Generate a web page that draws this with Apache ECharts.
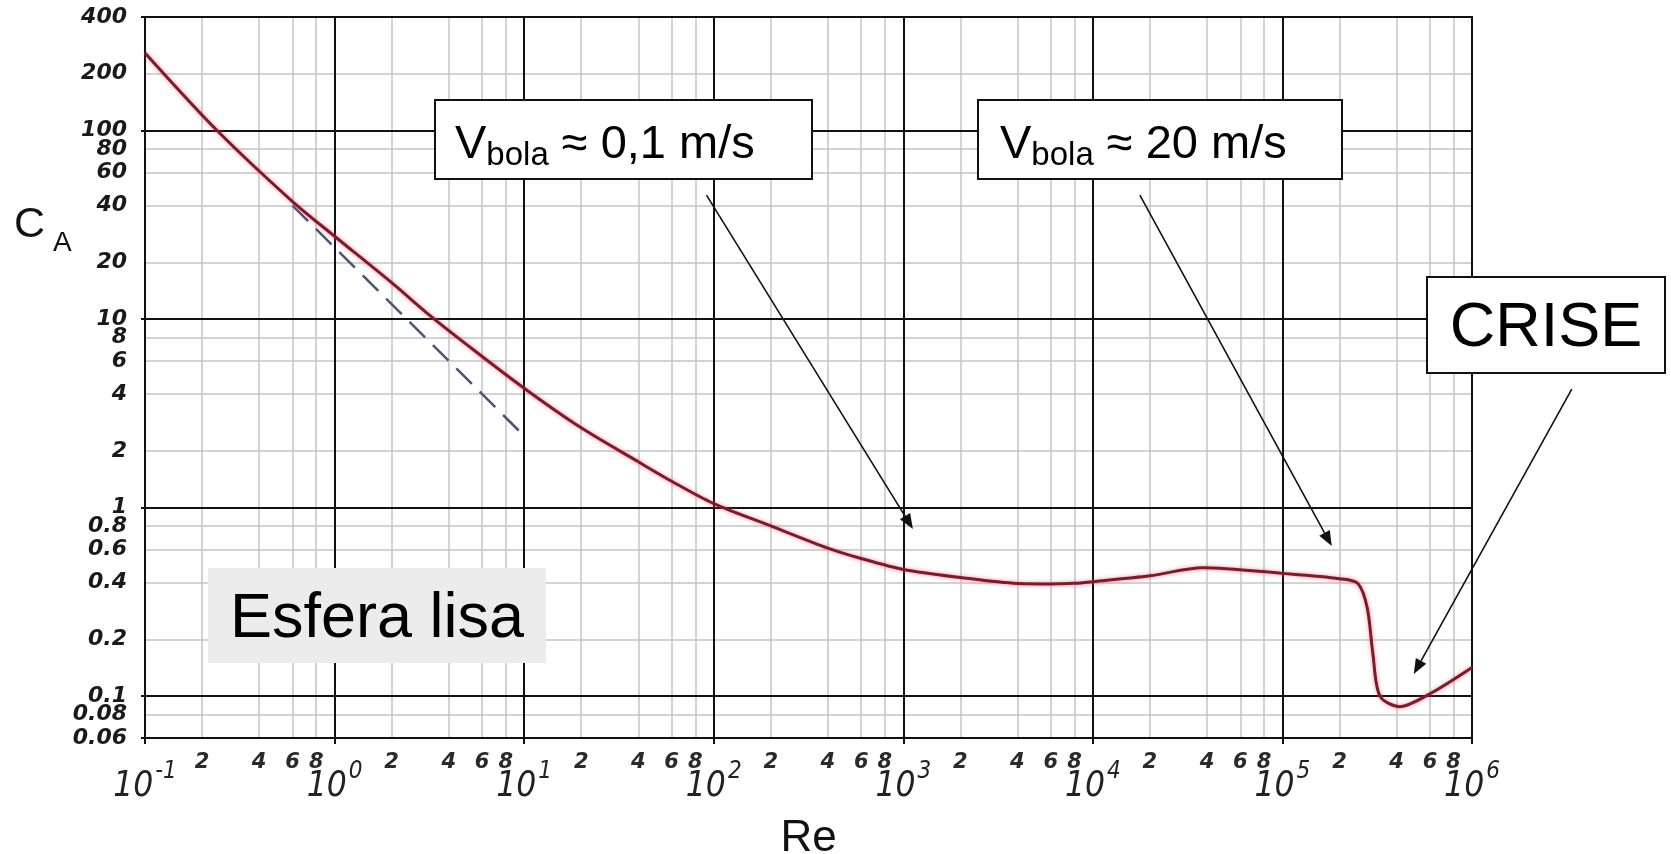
<!DOCTYPE html>
<html>
<head>
<meta charset="utf-8">
<title>C_A x Re - esfera lisa</title>
<script src="https://cdn.jsdelivr.net/npm/echarts@6/dist/echarts.min.js"></script>
<style>
  html, body { margin: 0; padding: 0; background: #fff; }
  #chart { width: 1671px; height: 854px; }
</style>
</head>
<body>
<div id="chart"></div>
<script>
// curve: Re -> C_A
const reValues = [0.1, 0.24, 0.6, 1, 2, 3.2, 5, 10, 20, 40, 60, 100, 200, 400, 600, 1000, 2000, 4000, 6000, 8000, 10000, 20000, 38000, 100000, 200000, 250000, 280000, 300000, 327000, 416000, 600000, 1000000];
const caValues = [258, 100, 42, 27.5, 15.6, 10.4, 7.3, 4.3, 2.65, 1.75, 1.38, 1.05, 0.8, 0.61, 0.537, 0.47, 0.426, 0.396, 0.394, 0.397, 0.405, 0.435, 0.48, 0.448, 0.42, 0.396, 0.295, 0.168, 0.10, 0.088, 0.103, 0.142];

// dashed straight line (Stokes)
const stokesRe = [0.6, 10];
const stokesCa = [40, 2.4];

// axis ticks
const xMajor = [0.1, 1, 10, 100, 1000, 10000, 100000, 1000000];
const xMajorExp = ['-1', '0', '1', '2', '3', '4', '5', '6'];
const xMinorDigits = [2, 4, 6, 8];

const yMajor = [0.06, 0.1, 1, 10, 100, 400];
const yMajorLabels = ['0.06', '0.1', '1', '10', '100', '400'];
const yMinor = [0.08, 0.2, 0.4, 0.6, 0.8, 2, 4, 6, 8, 20, 40, 60, 80, 200];
const yMinorLabels = ['0.08', '0.2', '0.4', '0.6', '0.8', '2', '4', '6', '8', '20', '40', '60', '80', '200'];

// annotation arrows, in data coordinates (Re, C_A)
const arrowFrom = [[91.6, 45.4], [17700, 45.4], [3.36e6, 4.25]];
const arrowTo = [[1124, 0.771], [182000, 0.625], [493000, 0.131]];

const chart = echarts.init(document.getElementById('chart'));

const majorLine = { color: '#111', width: 2, type: 'solid' };
const minorLine = { color: '#c4c4c4', width: 1.5, type: 'solid' };
const decFont = '"Liberation Sans Narrow", "DejaVu Sans Condensed", "DejaVu Sans", sans-serif';

const yLabel = {
    show: true, position: 'start', distance: 18,
    color: '#1a1a1a', fontFamily: 'DejaVu Sans', fontStyle: 'italic', fontWeight: 'bold', fontSize: 22
};

let minorItems = [];
let majorItems = [];

yMinor.forEach((v, i) => {
    minorItems.push({ yAxis: v, lineStyle: minorLine, label: Object.assign({ formatter: yMinorLabels[i] }, yLabel) });
});
yMajor.forEach((v, i) => {
    majorItems.push({ yAxis: v, lineStyle: majorLine, label: Object.assign({ formatter: yMajorLabels[i] }, yLabel) });
});

xMajor.slice(0, -1).forEach((dec) => {
    xMinorDigits.forEach((d) => {
        minorItems.push({
            xAxis: dec * d,
            lineStyle: minorLine,
            label: {
                show: true, position: 'start', distance: 14, formatter: String(d),
                color: '#2a2a2a', fontFamily: 'DejaVu Sans', fontStyle: 'italic', fontWeight: 'bold', fontSize: 21
            }
        });
    });
});

xMajor.forEach((v, i) => {
    majorItems.push({
        xAxis: v,
        lineStyle: majorLine,
        label: {
            show: true, position: 'start', distance: 22,
            formatter: '{d|10}{s|' + xMajorExp[i] + '}',
            rich: {
                d: { fontFamily: decFont, fontStyle: 'italic', fontSize: 35, lineHeight: 44, verticalAlign: 'bottom', color: '#222' },
                s: { fontFamily: decFont, fontStyle: 'italic', fontSize: 24, lineHeight: 26, verticalAlign: 'top', padding: [0, 0, 0, 2], color: '#222' }
            }
        }
    });
});

const option = {
    animation: false,
    grid: {
        left: 145, right: 199, top: 17, bottom: 116,
        outerBoundsMode: 'none',
        show: true, borderColor: '#111', borderWidth: 2
    },
    xAxis: {
        type: 'log', logBase: 10, min: 0.1, max: 1000000,
        name: 'Re', nameLocation: 'middle', nameGap: 79,
        nameTextStyle: { fontFamily: 'Liberation Sans', fontSize: 44, color: '#111' },
        axisLine: { show: false },
        axisTick: { show: true, length: 6, lineStyle: { color: '#111', width: 2 } },
        axisLabel: { show: false },
        splitLine: { show: false },
        minorTick: { show: false }
    },
    yAxis: {
        type: 'log', logBase: 10, min: 0.06, max: 400,
        axisLine: { show: false },
        axisTick: { show: true, length: 4, lineStyle: { color: '#111', width: 2 } },
        axisLabel: { show: false },
        splitLine: { show: false }
    },
    series: [
        {
            name: 'minor', type: 'line', data: [], silent: true, z: 1,
            markLine: { z: 1, silent: true, symbol: 'none', animation: false, data: minorItems }
        },
        {
            name: 'major', type: 'line', data: [], silent: true, z: 1,
            markLine: { z: 2, silent: true, symbol: 'none', animation: false, data: majorItems }
        },
        {
            name: 'Stokes', type: 'line', z: 3, silent: true, symbol: 'none',
            data: stokesRe.map((r, i) => [r, stokesCa[i]]),
            lineStyle: { color: '#4a5678', width: 2.5, type: [22, 11] }
        },
        {
            name: 'Esfera lisa', type: 'line', z: 4, silent: true, symbol: 'none', smooth: 0.3,
            data: reValues.map((r, i) => [r, caValues[i]]),
            lineStyle: { color: '#821828', width: 3, shadowColor: 'rgba(235,70,90,0.6)', shadowBlur: 4 }
        }
    ]
};

chart.setOption(option);

// annotations: boxes, texts and arrows
const boxText = {
    m: { fontFamily: 'Liberation Sans', fontSize: 47, lineHeight: 50, padding: [0, 0, 10, 0], verticalAlign: 'top', fill: '#000' },
    b: { fontFamily: 'Liberation Sans', fontSize: 33, lineHeight: 36, verticalAlign: 'bottom', fill: '#000' }
};
const plain = (size) => ({ fontFamily: 'Liberation Sans', fontSize: size, fill: '#000', align: 'center', verticalAlign: 'middle', textAlign: 'center', textVerticalAlign: 'middle' });

let elements = [
    { type: 'rect', z: 10, shape: { x: 208, y: 568, width: 338, height: 95 }, style: { fill: '#ececec' } },
    { type: 'text', z: 11, x: 377, y: 620, style: Object.assign({ text: 'Esfera lisa' }, plain(63)) },

    { type: 'rect', z: 10, shape: { x: 435, y: 100, width: 377, height: 79 }, style: { fill: '#fff', stroke: '#111', lineWidth: 2 } },
    { type: 'text', z: 11, x: 455, y: 122, style: { text: '{m|V}{b|bola}{m| ≈ 0,1 m/s}', rich: boxText, align: 'left', verticalAlign: 'top', textAlign: 'left', textVerticalAlign: 'top' } },

    { type: 'rect', z: 10, shape: { x: 978, y: 100, width: 364, height: 79 }, style: { fill: '#fff', stroke: '#111', lineWidth: 2 } },
    { type: 'text', z: 11, x: 1000, y: 122, style: { text: '{m|V}{b|bola}{m| ≈ 20 m/s}', rich: boxText, align: 'left', verticalAlign: 'top', textAlign: 'left', textVerticalAlign: 'top' } },

    { type: 'rect', z: 10, shape: { x: 1427, y: 277, width: 238, height: 96 }, style: { fill: '#fff', stroke: '#111', lineWidth: 2 } },
    { type: 'text', z: 11, x: 1546, y: 329, style: Object.assign({ text: 'CRISE' }, plain(63)) },

    { type: 'text', z: 11, x: 14, y: 225, style: { text: 'C', fontFamily: 'Liberation Sans', fontSize: 43, fill: '#111', align: 'left', verticalAlign: 'middle', textAlign: 'left', textVerticalAlign: 'middle' } },
    { type: 'text', z: 11, x: 53, y: 243, style: { text: 'A', fontFamily: 'Liberation Sans', fontSize: 28, fill: '#111', align: 'left', verticalAlign: 'middle', textAlign: 'left', textVerticalAlign: 'middle' } }
];

arrowFrom.forEach((f, i) => {
    const p0 = chart.convertToPixel({ gridIndex: 0 }, f);
    const p1 = chart.convertToPixel({ gridIndex: 0 }, arrowTo[i]);
    const dx = p1[0] - p0[0], dy = p1[1] - p0[1];
    const len = Math.sqrt(dx * dx + dy * dy);
    const ux = dx / len, uy = dy / len;
    const headL = 15, headW = 6;
    const bx = p1[0] - ux * headL, by = p1[1] - uy * headL;
    elements.push({ type: 'line', z: 12, shape: { x1: p0[0], y1: p0[1], x2: bx, y2: by }, style: { stroke: '#111', lineWidth: 1.6 } });
    elements.push({
        type: 'polygon', z: 12,
        shape: { points: [[p1[0], p1[1]], [bx - uy * headW, by + ux * headW], [bx + uy * headW, by - ux * headW]] },
        style: { fill: '#111' }
    });
});

chart.setOption({ graphic: elements });
</script>
</body>
</html>
